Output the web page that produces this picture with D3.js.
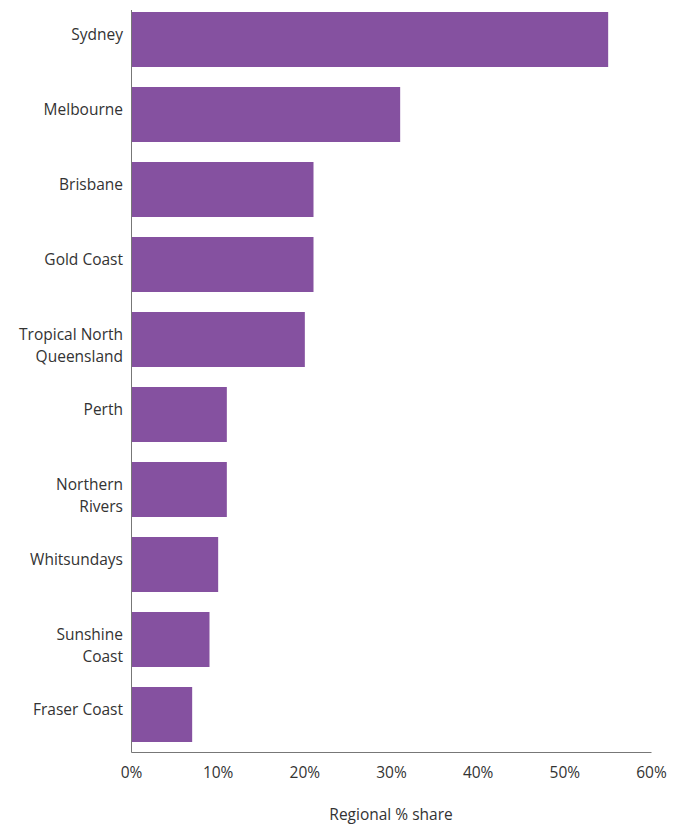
<!DOCTYPE html>
<html><head><meta charset="utf-8">
<script src="https://cdn.jsdelivr.net/npm/d3@7"></script>
<style>body{margin:0;background:#fff}svg{display:block}text{font-family:"Open Sans",Lato,sans-serif;fill:#333}</style>
</head><body><svg id="c" width="683" height="825"></svg>
<script>
const categories = ["Sydney","Melbourne","Brisbane","Gold Coast","Tropical North Queensland","Perth","Northern Rivers","Whitsundays","Sunshine Coast","Fraser Coast"];
const labelLines = [["Sydney"],["Melbourne"],["Brisbane"],["Gold Coast"],["Tropical North","Queensland"],["Perth"],["Northern","Rivers"],["Whitsundays"],["Sunshine","Coast"],["Fraser Coast"]];
const values = [55,31,21,21,20,11,11,10,9,7];
const xTicks = [0,10,20,30,40,50,60];
const xTitle = "Regional % share";

const svg = d3.select("#c");
const x = d3.scaleLinear().domain([0,60]).range([131.5,651.5]);
const y = d3.scaleBand().domain(categories).range([2,752]).paddingInner(20/75).paddingOuter(10/75);

svg.selectAll("rect").data(categories).join("rect")
  .attr("x", x(0)).attr("y", d=>y(d))
  .attr("width", (d,i)=>x(values[i])-x(0)).attr("height", y.bandwidth())
  .attr("fill","#8551a0");

// axes lines
svg.append("line").attr("x1",x(0)).attr("x2",x(0)).attr("y1",10).attr("y2",752.5).attr("stroke","#777").attr("stroke-width",1);
svg.append("line").attr("x1",x(0)).attr("x2",x(60)).attr("y1",752.5).attr("y2",752.5).attr("stroke","#777").attr("stroke-width",1);

// category labels
categories.forEach((c,i)=>{
  const lines = labelLines[i];
  const cy = y(c)+y.bandwidth()/2;
  const lh = 22;
  const t = svg.append("text").attr("text-anchor","end").attr("font-size",15.5);
  lines.forEach((l,j)=>{
    t.append("tspan").attr("x",123).attr("y", cy - 5 + j*lh).attr("dy","0.35em").text(l);
  });
});

// x tick labels
svg.selectAll(".xt").data(xTicks).join("text")
  .attr("x",d=>x(d)).attr("y",773).attr("dy","0.35em").attr("text-anchor","middle").attr("font-size",15.5)
  .text(d=>d+"%");

svg.append("text").attr("x",391).attr("y",815).attr("dy","0.35em").attr("text-anchor","middle").attr("font-size",15.5).text(xTitle);
</script></body></html>
